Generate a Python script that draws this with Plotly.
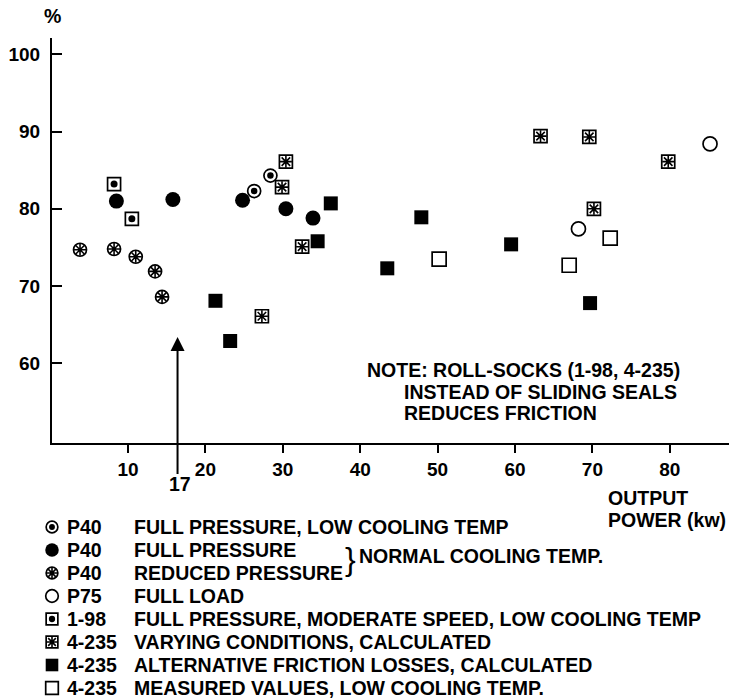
import plotly.graph_objects as go

# ---------------- data ----------------
p40_low_x = [26.3, 28.4]
p40_low_y = [82.3, 84.3]

p40_full_x = [8.5, 15.8, 24.8, 30.4, 33.9]
p40_full_y = [81.0, 81.2, 81.1, 80.0, 78.8]

p40_red_x = [3.8, 8.2, 11.0, 13.5, 14.4]
p40_red_y = [74.7, 74.8, 73.8, 71.9, 68.6]

p75_x = [68.2, 85.2]
p75_y = [77.4, 88.4]

r198_x = [8.2, 10.5]
r198_y = [83.2, 78.7]

vary_x = [30.4, 29.9, 32.5, 27.3, 63.3, 69.6, 79.8, 70.2]
vary_y = [86.1, 82.8, 75.1, 66.1, 89.4, 89.3, 86.1, 80.0]

alt_x = [21.3, 23.2, 34.5, 36.2, 43.5, 47.9, 59.5, 69.7]
alt_y = [68.1, 62.9, 75.8, 80.7, 72.3, 78.9, 75.4, 67.8]

meas_x = [50.2, 67.0, 72.3]
meas_y = [73.5, 72.7, 76.2]

x_ticks = [10, 20, 30, 40, 50, 60, 70, 80]
y_ticks = [60, 70, 80, 90, 100]

marked_power = 17
marked_arrow_top = 63.4

legend_codes = ["P40", "P40", "P40", "P75", "1-98", "4-235", "4-235", "4-235"]
legend_desc = [
    "FULL PRESSURE, LOW COOLING TEMP",
    "FULL PRESSURE",
    "REDUCED PRESSURE",
    "FULL LOAD",
    "FULL PRESSURE, MODERATE SPEED, LOW COOLING TEMP",
    "VARYING CONDITIONS, CALCULATED",
    "ALTERNATIVE FRICTION LOSSES, CALCULATED",
    "MEASURED VALUES, LOW COOLING TEMP.",
]
note_lines = ["NOTE: ROLL-SOCKS (1-98, 4-235)", "INSTEAD OF SLIDING SEALS", "REDUCES FRICTION"]

# ---------------- styles ----------------
FONT = "Liberation Sans"
BLACK = "black"
# each series: list of marker layers (symbol, size, line width)
styles = [
    [("circle-open", 13, 1.7), ("circle", 6.5, 0)],
    [("circle", 15, 0)],
    [("circle-open", 13, 1.7), ("asterisk-open", 10, 1.6)],
    [("circle-open", 14, 1.7)],
    [("square-open", 13, 1.7), ("circle", 7, 0)],
    [("square-open", 13, 1.7), ("asterisk-open", 10, 1.6)],
    [("square", 14, 0)],
    [("square-open", 14, 1.7)],
]
series = [
    (p40_low_x, p40_low_y), (p40_full_x, p40_full_y), (p40_red_x, p40_red_y),
    (p75_x, p75_y), (r198_x, r198_y), (vary_x, vary_y), (alt_x, alt_y), (meas_x, meas_y),
]

fig = go.Figure()

for (xs, ys), layers, code, desc in zip(series, styles, legend_codes, legend_desc):
    for sym, size, lw in layers:
        fig.add_trace(go.Scatter(
            x=xs, y=ys, mode="markers", name=f"{code} {desc}", showlegend=False,
            marker=dict(symbol=sym, size=size, color=BLACK, line=dict(color=BLACK, width=lw)),
            cliponaxis=False, hoverinfo="skip",
        ))

# legend keys on an auxiliary pixel-like axis pair
W, H = 729, 700
row0, rowstep = 527, 23
key_x, code_x, desc_x = 52, 65, 132
for i, layers in enumerate(styles):
    for sym, size, lw in layers:
        fig.add_trace(go.Scatter(
            x=[key_x], y=[row0 + i * rowstep], xaxis="x2", yaxis="y2", mode="markers",
            showlegend=False, hoverinfo="skip", cliponaxis=False,
            marker=dict(symbol=sym, size=size * 0.9, color=BLACK, line=dict(color=BLACK, width=lw)),
        ))

tf = dict(family=FONT, size=19.5, color=BLACK, weight="bold")
tickf = dict(family=FONT, size=19, color=BLACK, weight="bold")
annotations = []
for i, (code, desc) in enumerate(zip(legend_codes, legend_desc)):
    yy = row0 + i * rowstep
    annotations.append(dict(x=code_x, y=yy, xref="x2", yref="y2", text=code, showarrow=False,
                            xanchor="left", yanchor="middle", font=tf))
    annotations.append(dict(x=desc_x, y=yy, xref="x2", yref="y2", text=desc, showarrow=False,
                            xanchor="left", yanchor="middle", font=tf))

# brace + grouped note
annotations.append(dict(x=343, y=559, xref="x2", yref="y2", text="}", showarrow=False,
                        xanchor="left", yanchor="middle",
                        font=dict(family=FONT, size=32, color=BLACK)))
annotations.append(dict(x=357, y=556, xref="x2", yref="y2", text="NORMAL COOLING TEMP.",
                        showarrow=False, xanchor="left", yanchor="middle", font=tf))

# axis titles
annotations.append(dict(x=52, y=16, xref="x2", yref="y2", text="%", showarrow=False,
                        xanchor="center", yanchor="middle", font=tf))
annotations.append(dict(x=606, y=498, xref="x2", yref="y2", text="OUTPUT", showarrow=False,
                        xanchor="left", yanchor="middle", font=tf))
annotations.append(dict(x=606, y=520, xref="x2", yref="y2", text="POWER (kw)", showarrow=False,
                        xanchor="left", yanchor="middle", font=tf))

# note
note_pos = [(365, 370), (402, 392), (402, 413)]
for line, (nx, ny) in zip(note_lines, note_pos):
    annotations.append(dict(x=nx, y=ny, xref="x2", yref="y2", text=line, showarrow=False,
                            xanchor="left", yanchor="middle", font=tf))

# marked power arrow and label
annotations.append(dict(x=marked_power - 0.6, y=marked_arrow_top, xref="x", yref="y",
                        ax=marked_power - 0.6, ay=45.5, axref="x", ayref="y", text="",
                        showarrow=True, arrowhead=2, arrowsize=1.4, arrowwidth=2,
                        arrowcolor=BLACK))
annotations.append(dict(x=180, y=484, xref="x2", yref="y2", text=str(marked_power),
                        showarrow=False, xanchor="center", yanchor="middle", font=tf))

fig.update_layout(
    width=W, height=H, margin=dict(l=0, r=0, t=0, b=0),
    paper_bgcolor="white", plot_bgcolor="rgba(0,0,0,0)",
    showlegend=False,
    xaxis=dict(domain=[52 / W, 1], range=[0.18, 87.65], showline=True, linecolor=BLACK,
               linewidth=2, ticks="outside", ticklen=8, tickwidth=2, tickcolor=BLACK,
               tickvals=x_ticks, tickfont=tickf, showgrid=False, zeroline=False,
               anchor="y", fixedrange=True),
    yaxis=dict(domain=[(H - 443) / H, (H - 38) / H], range=[49.7, 102.1], showline=True,
               linecolor=BLACK, linewidth=2, ticks="inside", ticklen=10, tickwidth=2,
               tickcolor=BLACK, tickvals=y_ticks, tickfont=tickf, showgrid=False,
               zeroline=False, anchor="x", ticklabelstandoff=6, fixedrange=True),
    xaxis2=dict(domain=[0, 1], range=[0, W], visible=False, anchor="y2", fixedrange=True),
    yaxis2=dict(domain=[0, 1], range=[H, 0], visible=False, anchor="x2", fixedrange=True),
    annotations=annotations,
)

fig.write_html("out.html")
